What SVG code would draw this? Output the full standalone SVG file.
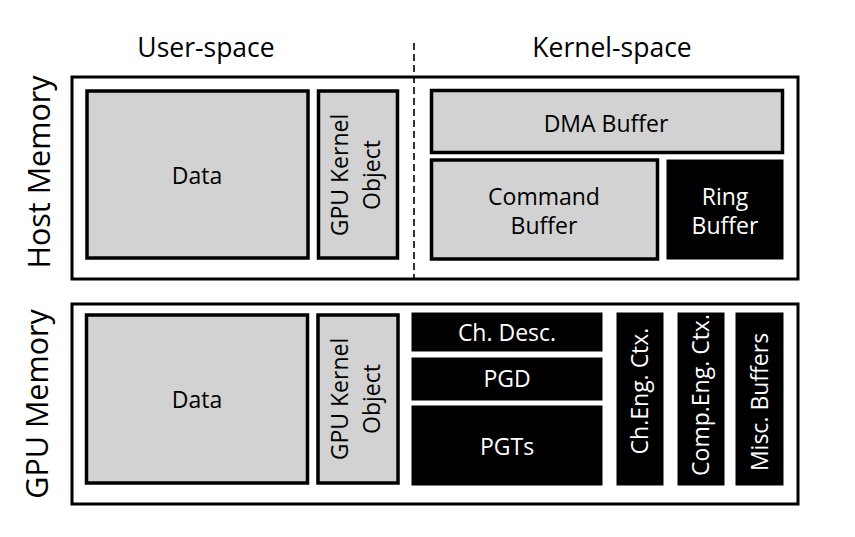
<svg xmlns="http://www.w3.org/2000/svg" width="855" height="537" viewBox="0 0 855 537">
<style>
text{font-family:"Open Sans","Noto Sans","DejaVu Sans",sans-serif;text-anchor:middle;fill:#000}
.outer{fill:#fff;stroke:#000;stroke-width:3}
.gray{fill:#d3d2d2;stroke:#000;stroke-width:3.5}
.blk{fill:#000;stroke:#000;stroke-width:1}
.lbl{font-size:23px}
.w{fill:#fff}
.hdr{font-size:26.5px}
.side{font-size:30.5px}
</style>
<rect width="855" height="537" fill="#fff"/>
<g id="headers">
<text class="hdr" x="206" y="57">User-space</text>
<text class="hdr" x="612" y="57">Kernel-space</text>
</g>
<g id="host-memory">
<rect class="outer" x="72" y="77" width="726" height="202"/>
<text class="side" transform="translate(50,172) rotate(-90)">Host Memory</text>
</g>
<g id="gpu-memory">
<rect class="outer" x="72" y="304" width="726" height="200"/>
<text class="side" transform="translate(48,404) rotate(-90)">GPU Memory</text>
</g>
<g id="connectors">
<line x1="414" y1="43" x2="414" y2="279" stroke="#000" stroke-width="1.6" stroke-dasharray="7,4"/>
</g>
<g id="host-data">
<rect class="gray" x="87" y="91" width="221" height="167"/>
<text class="lbl" x="197" y="184">Data</text>
</g>
<g id="host-gko">
<rect class="gray" x="318.5" y="91" width="79" height="167"/>
<text class="lbl" transform="translate(348,175) rotate(-90)">GPU Kernel</text>
<text class="lbl" transform="translate(380,175) rotate(-90)">Object</text>
</g>
<g id="dma-buffer">
<rect class="gray" x="431.5" y="90.5" width="351" height="62"/>
<text class="lbl" x="606" y="131.5">DMA Buffer</text>
</g>
<g id="command-buffer">
<rect class="gray" x="431.5" y="160" width="226" height="99"/>
<text class="lbl" x="544" y="205">Command</text>
<text class="lbl" x="544" y="234">Buffer</text>
</g>
<g id="ring-buffer">
<rect class="blk" x="667" y="160" width="116" height="99"/>
<text class="lbl w" x="725" y="205">Ring</text>
<text class="lbl w" x="725" y="234">Buffer</text>
</g>
<g id="gpu-data">
<rect class="gray" x="86.5" y="315" width="221" height="168"/>
<text class="lbl" x="197" y="408">Data</text>
</g>
<g id="gpu-gko">
<rect class="gray" x="318" y="315" width="80" height="168"/>
<text class="lbl" transform="translate(348,399) rotate(-90)">GPU Kernel</text>
<text class="lbl" transform="translate(380,399) rotate(-90)">Object</text>
</g>
<g id="ch-desc">
<rect class="blk" x="412" y="313" width="190" height="38"/>
<text class="lbl w" x="507" y="341">Ch. Desc.</text>
</g>
<g id="pgd">
<rect class="blk" x="412" y="358" width="190" height="42"/>
<text class="lbl w" x="507" y="387">PGD</text>
</g>
<g id="pgts">
<rect class="blk" x="412" y="406" width="190" height="79"/>
<text class="lbl w" x="507" y="455">PGTs</text>
</g>
<g id="cheng-ctx">
<rect class="blk" x="617" y="313" width="46" height="172"/>
<text class="lbl w" transform="translate(648,391) rotate(-90)">Ch.Eng. Ctx.</text>
</g>
<g id="compeng-ctx">
<rect class="blk" x="678" y="313" width="46" height="172"/>
<text class="lbl w" transform="translate(709,395) rotate(-90)">Comp.Eng. Ctx.</text>
</g>
<g id="misc-buffers">
<rect class="blk" x="736" y="313" width="47" height="172"/>
<text class="lbl w" transform="translate(768,402) rotate(-90)">Misc. Buffers</text>
</g>
</svg>
